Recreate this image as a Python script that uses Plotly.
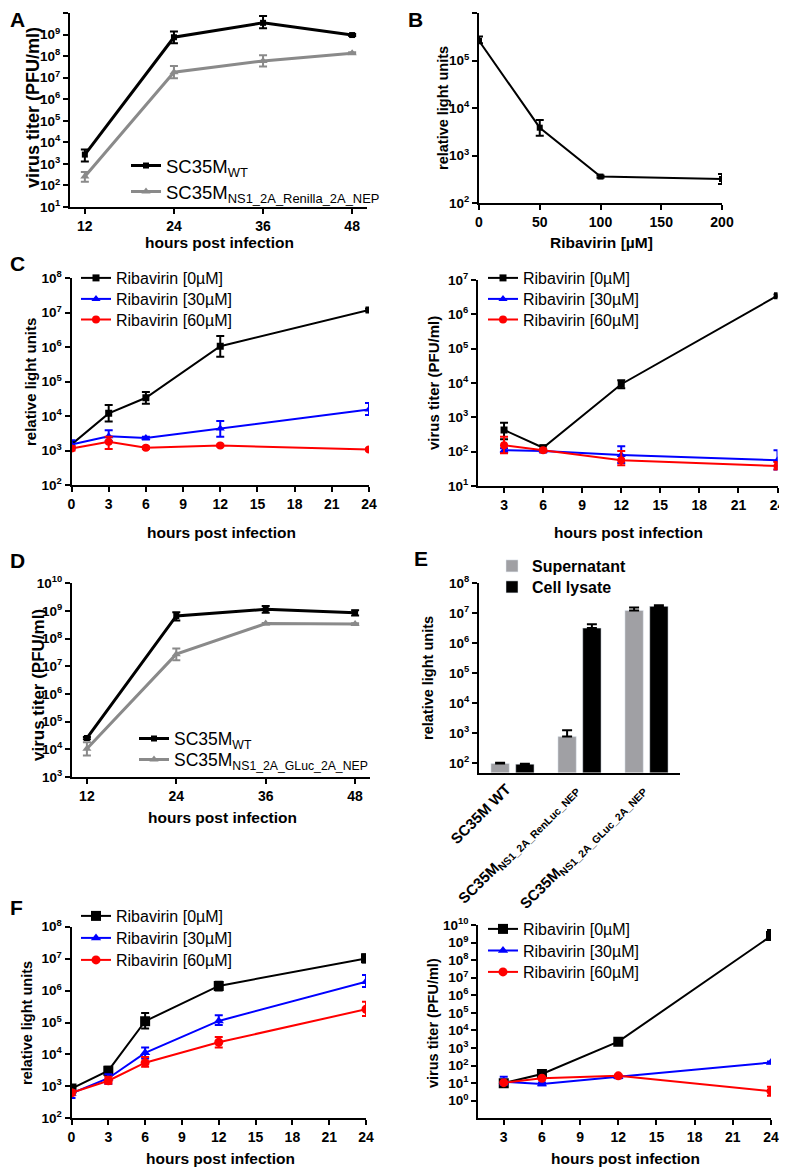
import plotly.graph_objects as go

# The page body adds an 8px margin, so the figure is drawn 8px in from the window corner.
OFF = 8
W, H = 787 - OFF, 1169 - OFF
def fx(p): return (p - OFF) / W
def fy(p): return 1 - (p - OFF) / H

FONT = "Liberation Sans, Arial, sans-serif"
BLACK, GRAY, BLUE, RED = "#000000", "#8a8a8a", "#0000ff", "#ff0000"

# ---------------- data ----------------
A_hours = [12, 24, 36, 48]
A_wt = [2.7e3, 7.5e8, 3.5e9, 9.5e8]
A_wt_hi = [4.6e3, 1.4e9, 7.3e9, 1.05e9]
A_wt_lo = [1.3e3, 4.0e8, 1.95e9, 8.5e8]
A_ren = [2.6e2, 1.8e7, 6.0e7, 1.36e8]
A_ren_hi = [4.2e2, 3.5e7, 1.1e8, 1.5e8]
A_ren_lo = [1.5e2, 9.5e6, 3.3e7, 1.25e8]

B_riba = [0, 50, 100, 200]
B_rlu = [2.6e5, 3.85e3, 3.6e2, 3.2e2]
B_rlu_hi = [3.2e5, 5.6e3, 3.8e2, 4.1e2]
B_rlu_lo = [2.3e5, 2.6e3, 3.4e2, 2.5e2]

C_hours_rlu = [0, 3, 6, 12, 24]
C_rlu_0 = [1.5e3, 1.2e4, 3.4e4, 1.07e6, 1.2e7]
C_rlu_0_hi = [1.8e3, 2.1e4, 5.0e4, 2.1e6, 1.3e7]
C_rlu_0_lo = [1.2e3, 7.0e3, 2.3e4, 5.3e5, 1.1e7]
C_rlu_30 = [1.5e3, 2.6e3, 2.3e3, 4.4e3, 1.55e4]
C_rlu_30_hi = [2.0e3, 3.9e3, 2.5e3, 7.2e3, 2.4e4]
C_rlu_30_lo = [1.1e3, 1.9e3, 2.1e3, 2.5e3, 1.07e4]
C_rlu_60 = [1.15e3, 1.8e3, 1.2e3, 1.4e3, 1.07e3]
C_rlu_60_hi = [1.35e3, 2.5e3, 1.3e3, 1.5e3, 1.15e3]
C_rlu_60_lo = [1.0e3, 1.1e3, 1.1e3, 1.3e3, 1.0e3]

C_hours_tit = [3, 6, 12, 24]
C_tit_0 = [4.3e2, 1.3e2, 9.2e3, 3.5e6]
C_tit_0_hi = [7.0e2, 1.5e2, 1.2e4, 3.8e6]
C_tit_0_lo = [2.3e2, 1.1e2, 7.0e3, 3.2e6]
C_tit_30 = [1.1e2, 1.05e2, 8.0e1, 5.6e1]
C_tit_30_hi = [1.25e2, 1.15e2, 1.45e2, 1.1e2]
C_tit_30_lo = [0.95e2, 0.95e2, 4.7e1, 3.0e1]
C_tit_60 = [1.55e2, 1.1e2, 5.6e1, 3.8e1]
C_tit_60_hi = [2.7e2, 1.2e2, 1.05e2, 5.0e1]
C_tit_60_lo = [9.0e1, 1.0e2, 4.0e1, 3.0e1]

D_hours = [12, 24, 36, 48]
D_wt = [2.55e4, 6.6e8, 1.15e9, 8.7e8]
D_wt_hi = [2.8e4, 8.9e8, 1.5e9, 1.07e9]
D_wt_lo = [2.3e4, 4.5e8, 8.7e8, 6.8e8]
D_gluc = [1.05e4, 2.75e7, 3.5e8, 3.4e8]
D_gluc_hi = [1.8e4, 4.4e7, 3.7e8, 3.6e8]
D_gluc_lo = [6.0e3, 1.66e7, 3.3e8, 3.2e8]

E_viruses = ["<b>SC35M WT</b>",
             "<b>SC35M<sub>NS1_2A_RenLuc_NEP</sub></b>",
             "<b>SC35M<sub>NS1_2A_GLuc_2A_NEP</sub></b>"]
E_super = [98, 7.7e2, 1.25e7]
E_super_hi = [104, 1.25e3, 1.55e7]
E_lysate = [93, 3.2e6, 1.7e7]
E_lysate_hi = [96, 4.3e6, 1.85e7]

F_hours_rlu = [0, 3, 6, 12, 24]
F_rlu_0 = [8.5e2, 3.1e3, 1.1e5, 1.4e6, 1.02e7]
F_rlu_0_hi = [1.1e3, 4.1e3, 2.0e5, 1.9e6, 1.35e7]
F_rlu_0_lo = [6.3e2, 2.2e3, 6.5e4, 1.0e6, 7.6e6]
F_rlu_30 = [6.0e2, 1.8e3, 1.12e4, 1.12e5, 1.9e6]
F_rlu_30_hi = [7.5e2, 2.4e3, 1.65e4, 1.7e5, 3.1e6]
F_rlu_30_lo = [4.3e2, 1.2e3, 7.4e3, 8.3e4, 1.3e6]
F_rlu_60 = [6.3e2, 1.5e3, 5.5e3, 2.4e4, 2.6e5]
F_rlu_60_hi = [7.5e2, 2.0e3, 8.3e3, 3.5e4, 4.5e5]
F_rlu_60_lo = [5.3e2, 1.2e3, 4.1e3, 1.65e4, 1.6e5]

F_hours_tit = [3, 6, 12, 24]
F_tit_0 = [10, 33, 2.3e3, 2.35e9]
F_tit_0_hi = [12, 49, 2.8e3, 5.2e9]
F_tit_0_lo = [8, 19, 2.0e3, 1.4e9]
F_tit_30 = [12, 9, 23, 1.5e2]
F_tit_30_hi = [23, 11, 28, 1.7e2]
F_tit_30_lo = [7.8, 7.5, 19, 1.35e2]
F_tit_60 = [10.7, 19, 26, 3.5]
F_tit_60_hi = [12, 22, 30, 6.3]
F_tit_60_lo = [9.5, 16, 22, 1.9]

RIBA_NAMES = ["Ribavirin [0µM]", "Ribavirin [30µM]", "Ribavirin [60µM]"]

fig = go.Figure()
legends = {}

def new_legend(text_x, y_mid, size):
    """one legend box per entry so that row spacing can follow the reference"""
    n = len(legends) + 1
    name = "legend" if n == 1 else "legend%d" % n
    legends[name] = dict(x=fx(text_x - 41), y=fy(y_mid), xanchor="left", yanchor="middle",
                         bgcolor="rgba(0,0,0,0)", itemwidth=30,
                         font=dict(family=FONT, size=size, color="black"))
    return name

def line(x, y, hi, lo, name, color, symbol, msize, lw, ax, leg=None):
    fig.add_trace(go.Scatter(
        x=x, y=y, name=name, mode="lines+markers",
        line=dict(color=color, width=lw),
        marker=dict(color=color, symbol=symbol, size=msize),
        error_y=dict(type="data", symmetric=False,
                     array=[h - v for h, v in zip(hi, y)],
                     arrayminus=[v - l for v, l in zip(y, lo)],
                     color=color, thickness=2, width=4),
        xaxis="x" + ax, yaxis="y" + ax,
        legend=new_legend(*leg) if leg else "legend", showlegend=leg is not None))

# A
line(A_hours, A_wt, A_wt_hi, A_wt_lo, "SC35M<sub>WT</sub>", BLACK, "square", 6, 3, "", (167, 166, 18.5))
line(A_hours, A_ren, A_ren_hi, A_ren_lo, "SC35M<sub>NS1_2A_Renilla_2A_NEP</sub>", GRAY, "triangle-up", 8, 3, "", (167, 192, 18.5))
# B
line(B_riba, B_rlu, B_rlu_hi, B_rlu_lo, "B", BLACK, "square", 6, 2, "2")
# C left
line(C_hours_rlu, C_rlu_0, C_rlu_0_hi, C_rlu_0_lo, RIBA_NAMES[0], BLACK, "square", 7, 2, "3", (117, 278, 16))
line(C_hours_rlu, C_rlu_30, C_rlu_30_hi, C_rlu_30_lo, RIBA_NAMES[1], BLUE, "triangle-up", 8, 2, "3", (117, 299, 16))
line(C_hours_rlu, C_rlu_60, C_rlu_60_hi, C_rlu_60_lo, RIBA_NAMES[2], RED, "circle", 8, 2, "3", (117, 319.5, 16))
# C right
line(C_hours_tit, C_tit_0, C_tit_0_hi, C_tit_0_lo, RIBA_NAMES[0], BLACK, "square", 7, 2, "4", (524, 278, 16))
line(C_hours_tit, C_tit_30, C_tit_30_hi, C_tit_30_lo, RIBA_NAMES[1], BLUE, "triangle-up", 8, 2, "4", (524, 299, 16))
line(C_hours_tit, C_tit_60, C_tit_60_hi, C_tit_60_lo, RIBA_NAMES[2], RED, "circle", 8, 2, "4", (524, 319.5, 16))
# D
line(D_hours, D_wt, D_wt_hi, D_wt_lo, "SC35M<sub>WT</sub>", BLACK, "square", 6, 3, "5", (175, 738.5, 17.5))
line(D_hours, D_gluc, D_gluc_hi, D_gluc_lo, "SC35M<sub>NS1_2A_GLuc_2A_NEP</sub>", GRAY, "triangle-up", 8, 3, "5", (175, 759.5, 17.5))
# E
fig.add_trace(go.Bar(x=E_viruses, y=E_super, name="<b>Supernatant</b>", marker_color="#a0a0a4",
                     error_y=dict(type="data", symmetric=False,
                                  array=[h - v for h, v in zip(E_super_hi, E_super)],
                                  arrayminus=[0] * 3, color=BLACK, thickness=2, width=5),
                     xaxis="x6", yaxis="y6", legend=new_legend(533, 566, 16)))
fig.add_trace(go.Bar(x=E_viruses, y=E_lysate, name="<b>Cell lysate</b>", marker_color=BLACK,
                     error_y=dict(type="data", symmetric=False,
                                  array=[h - v for h, v in zip(E_lysate_hi, E_lysate)],
                                  arrayminus=[0] * 3, color=BLACK, thickness=2, width=5),
                     xaxis="x6", yaxis="y6", legend=new_legend(533, 587, 16)))
# F left
line(F_hours_rlu, F_rlu_0, F_rlu_0_hi, F_rlu_0_lo, RIBA_NAMES[0], BLACK, "square", 10, 2, "7", (117, 916, 16))
line(F_hours_rlu, F_rlu_30, F_rlu_30_hi, F_rlu_30_lo, RIBA_NAMES[1], BLUE, "triangle-up", 9, 2, "7", (117, 938, 16))
line(F_hours_rlu, F_rlu_60, F_rlu_60_hi, F_rlu_60_lo, RIBA_NAMES[2], RED, "circle", 9, 2, "7", (117, 960, 16))
# F right
line(F_hours_tit, F_tit_0, F_tit_0_hi, F_tit_0_lo, RIBA_NAMES[0], BLACK, "square", 10, 2, "8", (524, 929, 16))
line(F_hours_tit, F_tit_30, F_tit_30_hi, F_tit_30_lo, RIBA_NAMES[1], BLUE, "triangle-up", 9, 2, "8", (524, 950.5, 16))
line(F_hours_tit, F_tit_60, F_tit_60_hi, F_tit_60_lo, RIBA_NAMES[2], RED, "circle", 9, 2, "8", (524, 972, 16))

# ---------------- axes ----------------
def logticks(lo, hi):
    vals = [10 ** k for k in range(lo, hi + 1)]
    txt = ["<b>10<sup>%d</sup></b>" % k for k in range(lo, hi + 1)]
    return vals, txt

common = dict(showgrid=False, zeroline=False, showline=True, linecolor="black", linewidth=2,
              ticks="outside", ticklen=5, tickwidth=2, tickcolor="black", automargin=False,
              tickfont=dict(family=FONT, size=14, color="black"))

def xax(name, x0, x1, rng, tv, anchor):
    tt = ["<b>%g</b>" % v for v in tv]
    fig.layout[name] = dict(common, domain=[fx(x0), fx(x1)], range=rng, tickvals=tv, ticktext=tt,
                            anchor=anchor)

def yax(name, y0, y1, lo, hi, tlo, thi, anchor):
    tv, tt = logticks(tlo, thi)
    fig.layout[name] = dict(common, type="log", domain=[fy(y1), fy(y0)], range=[lo, hi],
                            tickvals=tv, ticktext=tt, anchor=anchor,
                            tickfont=dict(family=FONT, size=13.5, color="black"))

# A
xax("xaxis", 70, 367, [10, 50], [12, 24, 36, 48], "y")
yax("yaxis", 13, 207, 1, 10, 1, 10, "x")
# B
xax("xaxis2", 479, 722, [0, 200], [0, 50, 100, 150, 200], "y2")
yax("yaxis2", 13, 203, 2, 6, 2, 6, "x2")
# C left
xax("xaxis3", 71.5, 369, [0, 24], list(range(0, 25, 3)), "y3")
yax("yaxis3", 278.3, 485, 2, 8, 2, 8, "x3")
# C right
xax("xaxis4", 478, 777.5, [1, 24], list(range(3, 25, 3)), "y4")
yax("yaxis4", 280, 486, 1, 7, 1, 7, "x4")
# D
xax("xaxis5", 72, 370, [10, 50], [12, 24, 36, 48], "y5")
yax("yaxis5", 583.3, 777, 3, 10, 3, 10, "x5")
# E
fig.layout["xaxis6"] = dict(common, domain=[fx(479), fx(680)], type="category", range=[-0.5, 2.5],
                            ticks="", tickangle=-45, anchor="y6", ticklabelshift=-6,
                            tickfont=dict(family=FONT, size=15, color="black"))
tv, tt = logticks(2, 8)
fig.layout["yaxis6"] = dict(common, type="log", domain=[fy(772.5), fy(583.3)], range=[1.69, 8],
                            tickvals=tv, ticktext=tt, anchor="x6",
                            tickfont=dict(family=FONT, size=13.5, color="black"))
# F left
xax("xaxis7", 71.5, 366, [0, 24], list(range(0, 25, 3)), "y7")
yax("yaxis7", 926.7, 1118.3, 2, 8, 2, 8, "x7")
# F right
xax("xaxis8", 478.3, 771, [1, 24], list(range(3, 25, 3)), "y8")
yax("yaxis8", 925, 1118.3, -1, 10, 0, 10, "x8")

# ---------------- annotations ----------------
ann = []
def text(t, x, y, size, angle=0, xanchor="center", bold=True):
    ann.append(dict(text=("<b>%s</b>" % t) if bold else t, x=fx(x), y=fy(y), xref="paper", yref="paper",
                    showarrow=False, textangle=angle, xanchor=xanchor, yanchor="middle",
                    font=dict(family=FONT, size=size, color="black")))

for lbl, x, y in [("A", 8, 20), ("B", 406, 20), ("C", 8, 263), ("D", 8, 560), ("E", 412, 558), ("F", 8, 907)]:
    text(lbl, x, y, 21, xanchor="left")

# y titles
text("virus titer (PFU/ml)", 33, 108, 18, -90)
text("relative light units", 443, 108, 14.5, -90)
text("relative light units", 30, 382, 15, -90)
text("virus titer (PFU/ml)", 433, 383, 15, -90)
text("virus titer (PFU/ml)", 38, 685, 17, -90)
text("relative light units", 428, 678, 14.5, -90)
text("relative light units", 27, 1023, 14.5, -90)
text("virus titer (PFU/ml)", 433, 1023, 14.5, -90)
# x titles
text("hours post infection", 219, 243, 15.5)
text("Ribavirin [µM]", 601, 243, 15.5)
text("hours post infection", 221, 532, 15.5)
text("hours post infection", 628, 532, 15.5)
text("hours post infection", 222, 817, 15.5)
text("hours post infection", 220, 1158, 15.5)
text("hours post infection", 625, 1158, 15.5)

fig.update_layout(
    width=W, height=H, margin=dict(l=0, r=0, t=0, b=0, autoexpand=False),
    paper_bgcolor="white", plot_bgcolor="white",
    annotations=ann, barmode="group", bargap=0.26, bargroupgap=0.26,
    font=dict(family=FONT),
    **legends,
)

fig.write_html("out.html")
